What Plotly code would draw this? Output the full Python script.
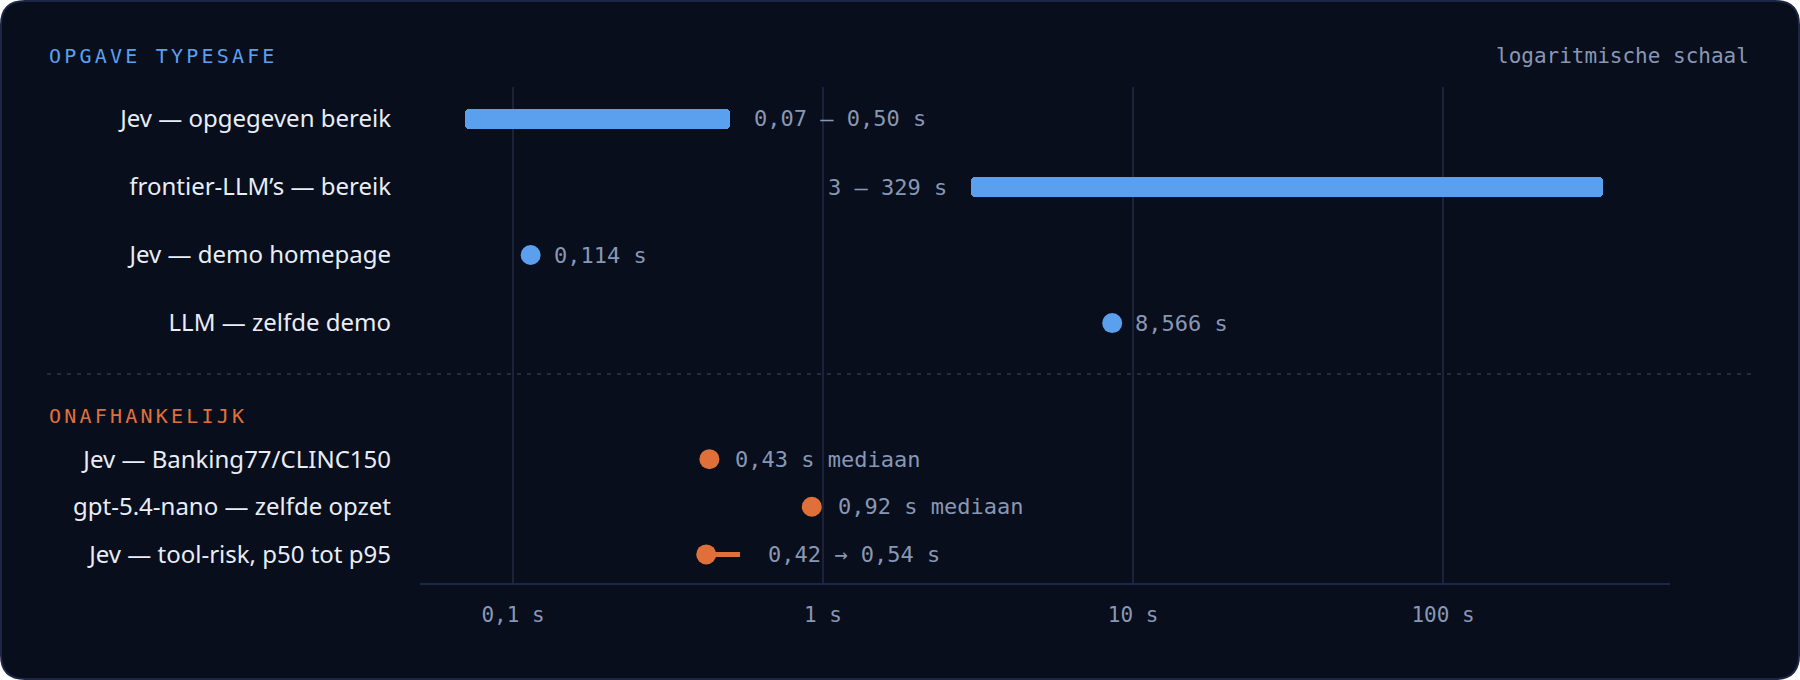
import numpy as np
import plotly.graph_objects as go

# --- data -----------------------------------------------------------------
# opgave typesafe: ranges
range_labels = ["Jev — opgegeven bereik", "frontier-LLM’s — bereik"]
range_lo = [0.07, 3]
range_hi = [0.50, 329]
range_text = ["0,07 – 0,50 s", "3 – 329 s"]

# opgave typesafe: single measurements
point_labels = ["Jev — demo homepage", "LLM — zelfde demo"]
point_vals = [0.114, 8.566]
point_text = ["0,114 s", "8,566 s"]

# onafhankelijk
indep_labels = ["Jev — Banking77/CLINC150", "gpt-5.4-nano — zelfde opzet", "Jev — tool-risk, p50 tot p95"]
indep_p50 = [0.43, 0.92, 0.42]
indep_p95 = [None, None, 0.54]
indep_text = ["0,43 s mediaan", "0,92 s mediaan", "0,42 → 0,54 s"]

tick_vals = [0.1, 1, 10, 100]
tick_text = ["0,1 s", "1 s", "10 s", "100 s"]

# --- style ----------------------------------------------------------------
BG = "#080e1c"
BLUE = "#5aa0ef"
ORANGE = "#e0703a"
LABEL = "#e8edf6"
MUTED = "#8897b4"
GRID = "#1b2339"
MONO = "DejaVu Sans Mono"
SANS = "Noto Sans"

W, H = 1800, 680
ML, MR, MT, MB = 420, 130, 87, 97
PW, PH = W - ML - MR, H - MT - MB


def px(x):
    return (x - ML) / PW


def py(y):
    return (H - MB - y) / PH


# row layout: top group one unit apart, lower group tighter after a gap
top_rows = [0, 1, 2, 3]
low_rows = [5.0, 5.7, 6.4]
rng_rows = top_rows[:2]
pt_rows = top_rows[2:]

fig = go.Figure()

fig.add_trace(go.Bar(
    orientation="h",
    y=rng_rows,
    base=range_lo,
    x=[h - l for l, h in zip(range_lo, range_hi)],
    width=0.28,
    marker=dict(color=BLUE, cornerradius=4, line=dict(width=0)),
    hoverinfo="skip",
))

fig.add_trace(go.Scatter(
    x=point_vals, y=pt_rows, mode="markers",
    marker=dict(color=BLUE, size=20, line=dict(width=0)),
    hoverinfo="skip",
))

for p50, p95, r in zip(indep_p50, indep_p95, low_rows):
    if p95 is not None:
        fig.add_trace(go.Scatter(
            x=[p50, p95], y=[r, r], mode="lines",
            line=dict(color=ORANGE, width=5), hoverinfo="skip",
        ))

fig.add_trace(go.Scatter(
    x=indep_p50, y=low_rows, mode="markers",
    marker=dict(color=ORANGE, size=20, line=dict(width=0)),
    hoverinfo="skip",
))

# value labels
vfont = dict(family=MONO, size=22, color=MUTED)
ann = []
ann.append(dict(x=np.log10(range_hi[0]), y=rng_rows[0], text=range_text[0],
                xanchor="left", xshift=22))
ann.append(dict(x=np.log10(range_lo[1]), y=rng_rows[1], text=range_text[1],
                xanchor="right", xshift=-22))
for v, r, t in zip(point_vals, pt_rows, point_text):
    ann.append(dict(x=np.log10(v), y=r, text=t, xanchor="left", xshift=21))
for p50, p95, r, t in zip(indep_p50, indep_p95, low_rows, indep_text):
    end = p95 if p95 is not None else p50
    shift = 26 if p95 is not None else 24
    ann.append(dict(x=np.log10(end), y=r, text=t, xanchor="left", xshift=shift))
for a in ann:
    a.update(xref="x", yref="y", showarrow=False, font=vfont, yanchor="middle")

# section headers
ann.append(dict(x=px(47), y=py(56), xref="paper", yref="paper", showarrow=False,
                xanchor="left", yanchor="middle",
                text='<span style="letter-spacing:3.2px">OPGAVE TYPESAFE</span>',
                font=dict(family=MONO, size=20, color=BLUE)))
ann.append(dict(x=px(1751), y=py(56), xref="paper", yref="paper", showarrow=False,
                xanchor="right", yanchor="middle", text="logaritmische schaal",
                font=dict(family=MONO, size=21, color=MUTED)))
ann.append(dict(x=px(47), y=4.37, xref="paper", yref="y", showarrow=False,
                xanchor="left", yanchor="middle",
                text='<span style="letter-spacing:3.2px">ONAFHANKELIJK</span>',
                font=dict(family=MONO, size=20, color=ORANGE)))

# card background with rounded corners
x0, x1, y0, y1, r = px(1), px(W - 1), py(1), py(H - 1), 24
rx, ry = r / PW, r / PH
card = (f"M {x0 + rx},{y0} L {x1 - rx},{y0} Q {x1},{y0} {x1},{y0 - ry} "
        f"L {x1},{y1 + ry} Q {x1},{y1} {x1 - rx},{y1} "
        f"L {x0 + rx},{y1} Q {x0},{y1} {x0},{y1 + ry} "
        f"L {x0},{y0 - ry} Q {x0},{y0} {x0 + rx},{y0} Z")

shapes = [
    dict(type="path", path=card, xref="paper", yref="paper", layer="below",
         fillcolor=BG, line=dict(color="#1e2646", width=2)),
    dict(type="line", xref="paper", yref="y", x0=px(47), x1=px(1751), y0=3.75, y1=3.75,
         line=dict(color="#2a3452", width=1.5, dash="4px,6px"), layer="below"),
]

fig.update_layout(
    width=W, height=H,
    margin=dict(l=ML, r=MR, t=MT, b=MB, pad=0),
    paper_bgcolor="#ffffff",
    plot_bgcolor="rgba(0,0,0,0)",
    showlegend=False,
    annotations=ann,
    shapes=shapes,
    bargap=0,
)

fig.update_xaxes(
    type="log",
    range=[-1.3, 2.732],
    tickvals=tick_vals, ticktext=tick_text,
    tickfont=dict(family=MONO, size=21, color=MUTED),
    ticks="", ticklabelstandoff=12,
    showgrid=True, gridcolor=GRID, gridwidth=1.5,
    showline=True, linecolor="#1e2844", linewidth=2,
    zeroline=False,
)

fig.update_yaxes(
    range=[6.82, -0.47],
    tickvals=rng_rows + pt_rows + low_rows,
    ticktext=range_labels + point_labels + indep_labels,
    tickfont=dict(family=SANS, size=24, color=LABEL),
    ticks="", ticklabelstandoff=28,
    showgrid=False, zeroline=False, showline=False,
)

fig.write_html("out.html", config={"displayModeBar": False},
               post_script="document.body.style.margin='0';")
